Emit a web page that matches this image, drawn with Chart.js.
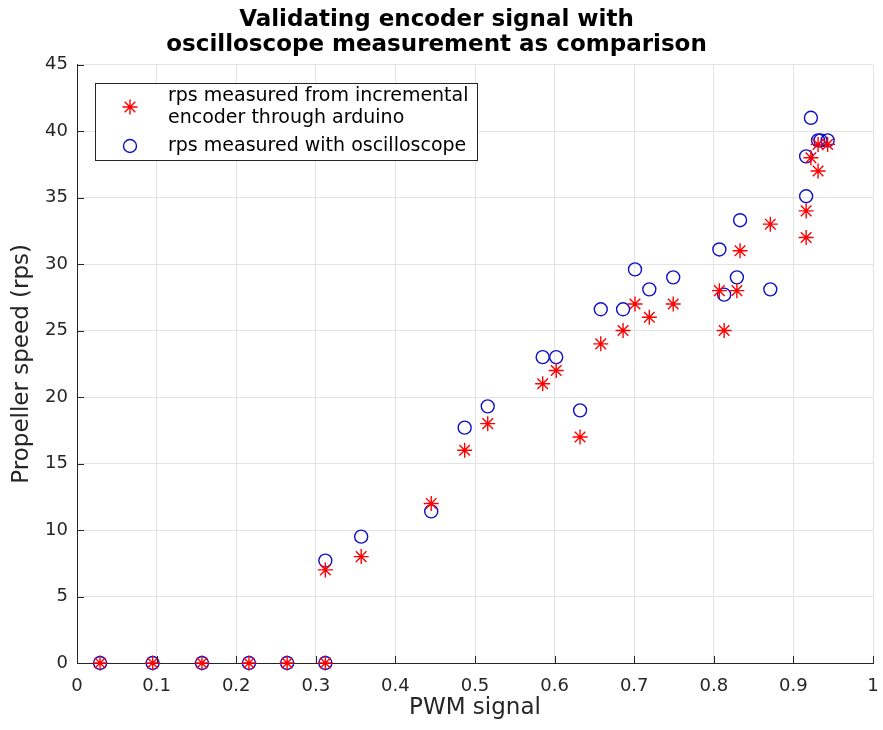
<!DOCTYPE html>
<html>
<head>
<meta charset="utf-8">
<script src="https://cdn.jsdelivr.net/npm/chart.js@4.4.0/dist/chart.umd.min.js"></script>
<style>
  html, body { margin: 0; padding: 0; background: #fff; }
  #wrap { width: 883px; height: 730px; }
</style>
</head>
<body>
<div id="wrap"><canvas id="myChart" width="883" height="730"></canvas></div>
<script>
// encoder (arduino) readings
const encoderX = [0.029, 0.095, 0.157, 0.216, 0.264, 0.312,
    0.312, 0.357, 0.445, 0.487, 0.516, 0.585, 0.602, 0.632, 0.658, 0.686,
    0.701, 0.719, 0.749, 0.807, 0.813, 0.829, 0.833, 0.871, 0.916, 0.916,
    0.922, 0.931, 0.931, 0.943];
const encoderY = [0, 0, 0, 0, 0, 0,
    7, 8, 12, 16, 18, 21, 22, 17, 24, 25,
    27, 26, 27, 28, 25, 28, 31, 33, 32, 34,
    38, 39, 37, 39];

// oscilloscope readings
const scopeX = [0.029, 0.095, 0.157, 0.216, 0.264, 0.312,
    0.312, 0.357, 0.445, 0.487, 0.516, 0.585, 0.602, 0.632, 0.658, 0.686,
    0.701, 0.719, 0.749, 0.807, 0.813, 0.829, 0.833, 0.871, 0.916, 0.916,
    0.922, 0.931, 0.934, 0.943];
const scopeY = [0, 0, 0, 0, 0, 0,
    7.7, 9.5, 11.4, 17.7, 19.3, 23, 23, 19, 26.6, 26.6,
    29.6, 28.1, 29, 31.1, 27.7, 29, 33.3, 28.1, 35.1, 38.1,
    41, 39.3, 39.3, 39.3];

const xTicks = ['0', '0.1', '0.2', '0.3', '0.4', '0.5', '0.6', '0.7', '0.8', '0.9', '1'];
const yTicks = ['0', '5', '10', '15', '20', '25', '30', '35', '40', '45'];

const legendLabels = [
    ['rps measured from incremental', 'encoder through arduino'],
    ['rps measured with oscilloscope']
];

const FONT = "'DejaVu Sans', sans-serif";
const AXIS = '#262626';

function toPoints(xs, ys) {
    return xs.map((x, i) => ({ x: x, y: ys[i] }));
}

// inward tick marks + legend box, like the original figure
const extras = {
    id: 'extras',
    afterDraw(chart) {
        const ctx = chart.ctx;
        const area = chart.chartArea;
        const xs = chart.scales.x, ys = chart.scales.y;
        ctx.save();
        ctx.strokeStyle = AXIS;
        ctx.lineWidth = 1;
        ctx.beginPath();
        xs.ticks.forEach(t => {
            const px = Math.round(xs.getPixelForValue(t.value)) + 0.5;
            ctx.moveTo(px, area.bottom);
            ctx.lineTo(px, area.bottom - 7);
        });
        ys.ticks.forEach(t => {
            const py = Math.round(ys.getPixelForValue(t.value)) + 0.5;
            ctx.moveTo(area.left, py);
            ctx.lineTo(area.left + 7, py);
        });
        ctx.stroke();

        // legend
        const bx = 95.5, by = 83.5, bw = 382, bh = 77;
        ctx.fillStyle = '#fff';
        ctx.fillRect(bx, by, bw, bh);
        ctx.strokeStyle = AXIS;
        ctx.strokeRect(bx, by, bw, bh);
        ctx.font = '19px ' + FONT;
        ctx.textBaseline = 'middle';
        ctx.textAlign = 'left';
        const rows = [[96, 118], [146]];
        const markY = [107, 146];
        chart.data.datasets.forEach((ds, i) => {
            ctx.strokeStyle = ds.borderColor;
            ctx.fillStyle = ds.backgroundColor;
            ctx.lineWidth = ds.borderWidth;
            Chart.helpers.drawPoint(ctx, {
                pointStyle: ds.pointStyle,
                radius: ds.pointRadius,
                borderWidth: ds.borderWidth
            }, 130, markY[i]);
            ctx.fillStyle = '#000';
            legendLabels[i].forEach((line, j) => {
                ctx.fillText(line, 168, rows[i][j]);
            });
        });
        ctx.restore();
    }
};

const config = {
    type: 'scatter',
    data: {
        datasets: [
            {
                label: legendLabels[0].join(' '),
                data: toPoints(encoderX, encoderY),
                pointStyle: 'star',
                pointRadius: 7.5,
                borderWidth: 1.4,
                borderColor: '#ff0000',
                backgroundColor: '#ff0000',
                clip: false
            },
            {
                label: legendLabels[1][0],
                data: toPoints(scopeX, scopeY),
                pointStyle: 'circle',
                pointRadius: 6.5,
                borderWidth: 1.4,
                borderColor: '#1010c8',
                backgroundColor: 'rgba(0,0,0,0)',
                clip: false
            }
        ]
    },
    options: {
        responsive: false,
        animation: false,
        events: [],
        layout: { padding: { left: 0, right: 10, top: 0, bottom: 0 } },
        plugins: {
            legend: { display: false },
            tooltip: { enabled: false },
            title: {
                display: true,
                text: ['Validating encoder signal with', 'oscilloscope measurement as comparison'],
                color: '#000',
                font: { family: FONT, size: 23, weight: 'bold', lineHeight: 1.1 },
                padding: { top: 7, bottom: 7 }
            }
        },
        scales: {
            x: {
                type: 'linear',
                min: 0,
                max: 1,
                afterBuildTicks(scale) {
                    scale.ticks = xTicks.map(v => ({ value: parseFloat(v) }));
                },
                ticks: {
                    callback: (v, i) => xTicks[i],
                    color: AXIS,
                    font: { family: FONT, size: 18 },
                    padding: 13,
                    maxRotation: 0
                },
                grid: { color: '#e3e3e3', tickLength: 0 },
                border: { color: AXIS, width: 1 },
                title: {
                    display: true,
                    text: 'PWM signal',
                    color: AXIS,
                    font: { family: FONT, size: 23 },
                    padding: { top: 0, bottom: 8 }
                },
                afterFit(scale) {
                    scale.height = 67;
                    scale.paddingLeft = 0;
                    scale.paddingRight = 0;
                }
            },
            y: {
                type: 'linear',
                min: 0,
                max: 45,
                afterBuildTicks(scale) {
                    scale.ticks = yTicks.map(v => ({ value: parseFloat(v) }));
                },
                ticks: {
                    callback: (v, i) => yTicks[i],
                    color: AXIS,
                    font: { family: FONT, size: 18 },
                    padding: 9
                },
                grid: { color: '#e3e3e3', tickLength: 0 },
                border: { color: AXIS, width: 1 },
                title: {
                    display: true,
                    text: 'Propeller speed (rps)',
                    color: AXIS,
                    font: { family: FONT, size: 23 },
                    padding: { top: 8, bottom: 0 }
                },
                afterFit(scale) { scale.width = 77; }
            }
        }
    },
    plugins: [extras]
};

const myChart = new Chart(document.getElementById('myChart'), config);
</script>
</body>
</html>
